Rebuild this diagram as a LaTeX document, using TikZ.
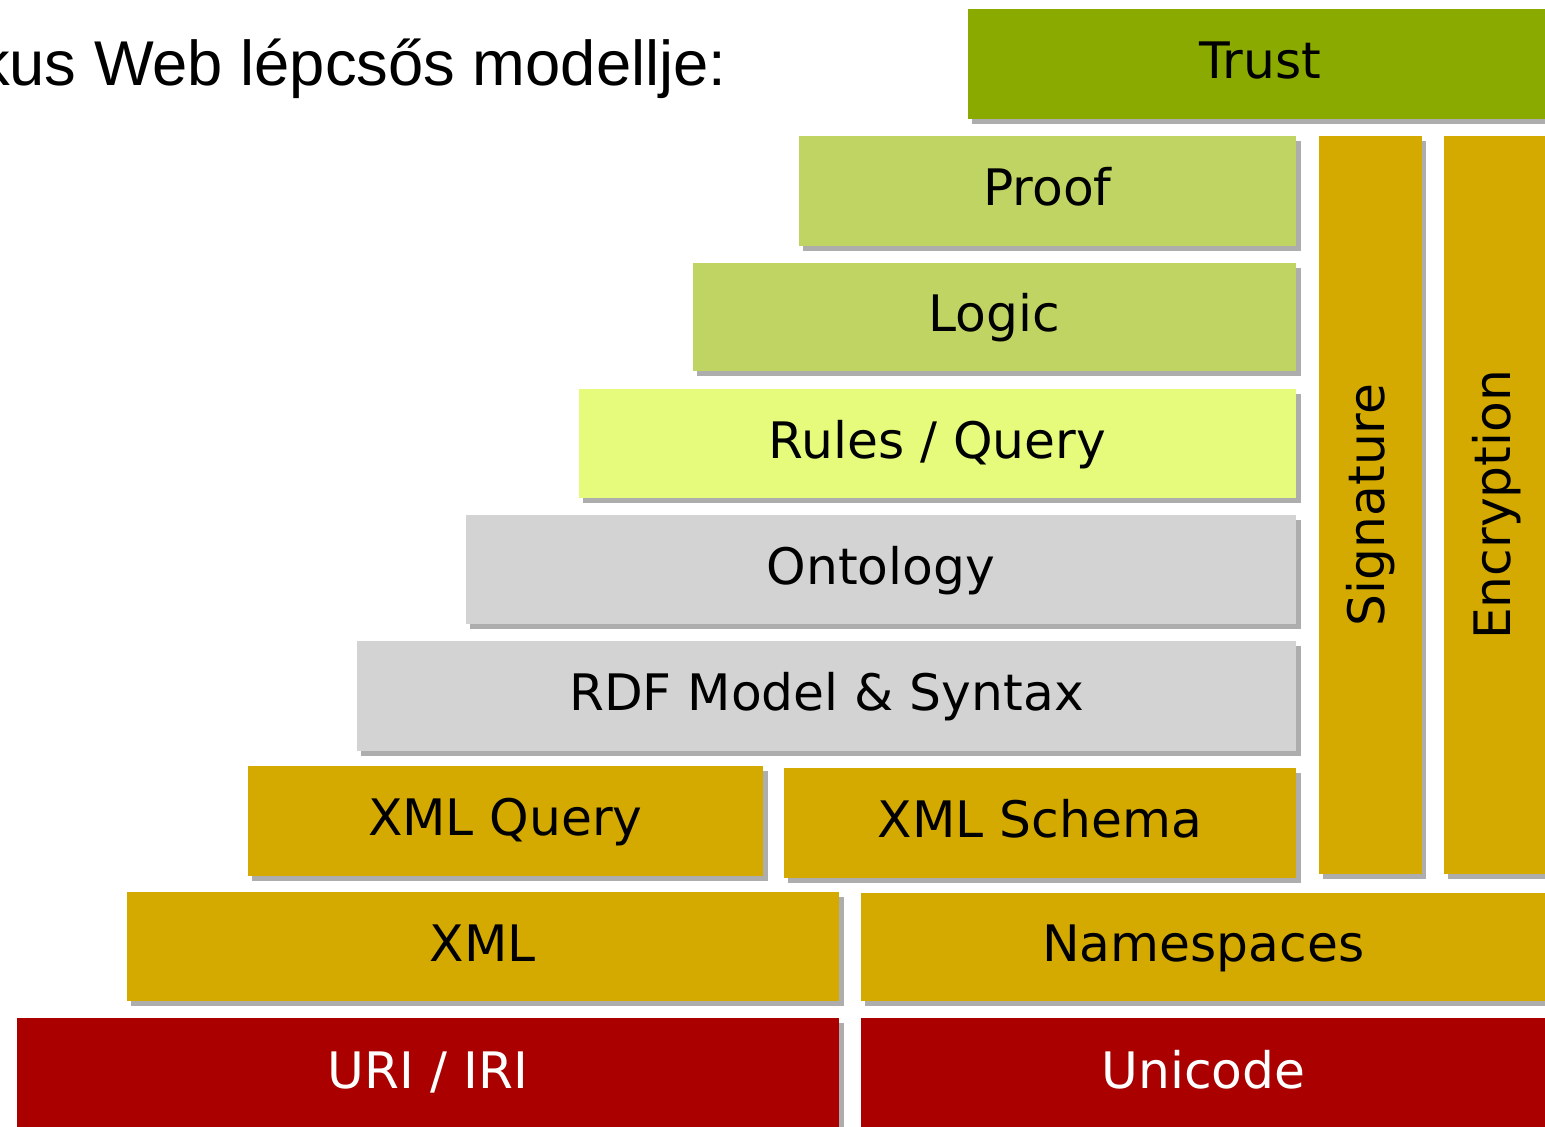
\documentclass[tikz,border=0pt]{standalone}
\usepackage{fontspec}
\setmainfont{DejaVu Sans}
\newfontfamily\titlefont{Liberation Sans}
\usetikzlibrary{shadows}

\definecolor{trustgreen}{HTML}{8AAA00}
\definecolor{logicgreen}{HTML}{BFD462}
\definecolor{rulesyellow}{HTML}{E6FB7C}
\definecolor{rdfgray}{HTML}{D3D3D3}
\definecolor{xmlgold}{HTML}{D4AA00}
\definecolor{urired}{HTML}{AA0000}

\begin{document}
\begin{tikzpicture}[x=0.01cm, y=-0.01cm]
        \useasboundingbox[fill=white] (0,0) rectangle (1545,1127);

        \begin{scope}[
            layer/.style={rectangle, anchor=north west, inner sep=0pt,
                font=\fontsize{14.3}{16}\selectfont, text height=11pt, text depth=2.6pt,
                drop shadow={shadow xshift=1.3pt, shadow yshift=-1.5pt,
                    fill=black!32, opacity=1}},
            trustbox/.style={layer, fill=trustgreen},
            logicbox/.style={layer, fill=logicgreen},
            rulesbox/.style={layer, fill=rulesyellow},
            rdfbox/.style={layer, fill=rdfgray},
            xmlbox/.style={layer, fill=xmlgold},
            uribox/.style={layer, fill=urired, text=white}]
            \node[trustbox, minimum width=5.85cm, minimum height=1.10cm] (trust) at (967, 8) {Trust};
            \node[logicbox, minimum width=4.97cm, minimum height=1.10cm] (proof) at (798, 135) {Proof};
            \node[logicbox, minimum width=6.03cm, minimum height=1.08cm] (logic) at (692, 262) {Logic};
            \node[rulesbox, minimum width=7.17cm, minimum height=1.09cm] (rules) at (578, 388) {Rules / Query};
            \node[rdfbox, minimum width=8.30cm, minimum height=1.09cm] (onto) at (465, 514) {Ontology};
            \node[rdfbox, minimum width=9.39cm, minimum height=1.10cm] (rdf) at (356, 640) {RDF Model \& Syntax};
            \node[xmlbox, minimum width=5.15cm, minimum height=1.10cm] (xmlquery) at (247, 765) {XML Query};
            \node[xmlbox, minimum width=5.12cm, minimum height=1.10cm] (xmlschema) at (783, 767) {XML Schema};
            \node[xmlbox, minimum width=1.03cm, minimum height=7.38cm] (sig) at (1318, 135) {};
            \node[xmlbox, minimum width=1.05cm, minimum height=7.38cm] (enc) at (1443, 135) {};
            \node[xmlbox, minimum width=7.12cm, minimum height=1.09cm] (xml) at (126, 891) {XML};
            \node[xmlbox, minimum width=6.85cm, minimum height=1.08cm] (ns) at (860, 892) {Namespaces};
            \node[uribox, minimum width=8.22cm, minimum height=1.12cm] (uri) at (16, 1017) {URI / IRI};
            \node[uribox, minimum width=6.85cm, minimum height=1.12cm] (unicode) at (860, 1017) {Unicode};
        \end{scope}

        % vertical labels
        \node[rotate=90, font=\fontsize{14.3}{16}\selectfont] at (sig.center) {Signature};
        \node[rotate=90, font=\fontsize{14.3}{16}\selectfont] at (enc.center) {Encryption};

        \node[anchor=base east, inner sep=0pt, font=\titlefont\fontsize{18}{20}\selectfont] (title) at (727, 85) {kus Web lépcsős modellje:};
\end{tikzpicture}
\end{document}
